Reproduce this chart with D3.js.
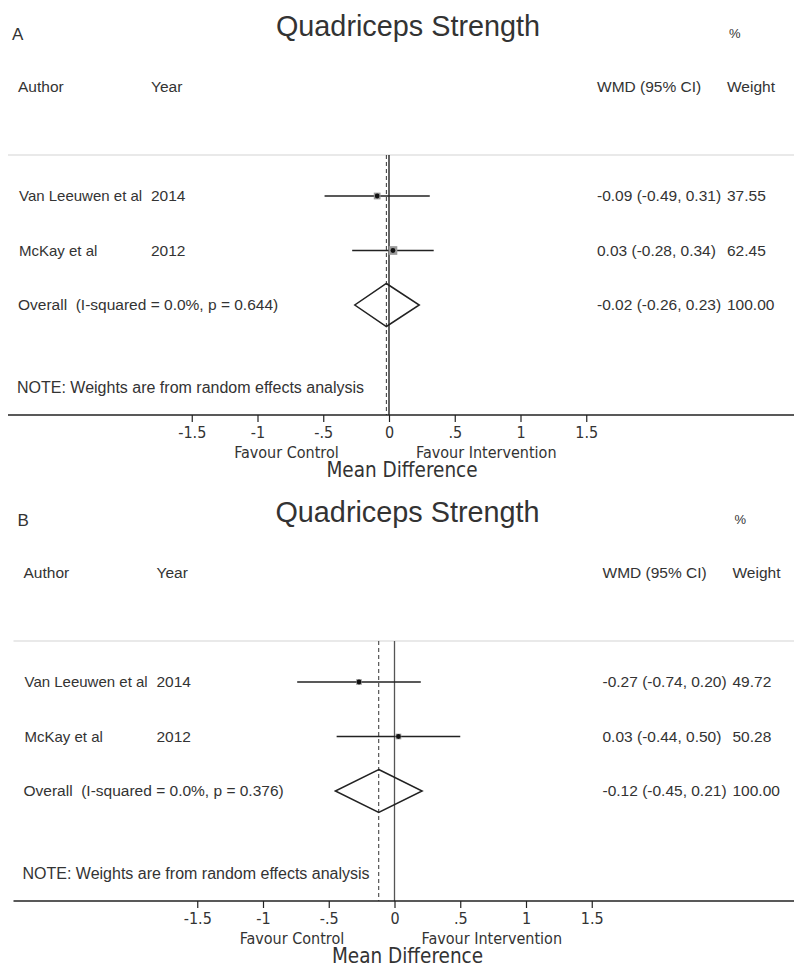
<!DOCTYPE html>
<html>
<head>
<meta charset="utf-8">
<script src="https://cdn.jsdelivr.net/npm/d3@7/dist/d3.min.js"></script>
<style>
  html, body { margin: 0; padding: 0; background: #fff; }
  svg { display: block; }
  text { font-family: "Liberation Sans", Arial, Helvetica, sans-serif; fill: #333; white-space: pre; }
  .narrow { font-family: "DejaVu Sans Condensed", "Liberation Sans Narrow", sans-serif; font-stretch: condensed; }
</style>
</head>
<body>
<script>
// ---------------- data ----------------
const authors = ["Van Leeuwen et al", "McKay et al"];
const years = ["2014", "2012"];

const estA = [-0.09, 0.03];
const lowA = [-0.49, -0.28];
const highA = [0.31, 0.34];
const weightA = ["37.55", "62.45"];
const overallA = { est: -0.02, low: -0.26, high: 0.23, i2: "0.0%", p: "0.644" };

const estB = [-0.27, 0.03];
const lowB = [-0.74, -0.44];
const highB = [0.20, 0.50];
const weightB = ["49.72", "50.28"];
const overallB = { est: -0.12, low: -0.45, high: 0.21, i2: "0.0%", p: "0.376" };

const tickValues = [-1.5, -1, -0.5, 0, 0.5, 1, 1.5];
const tickLabels = ["-1.5", "-1", "-.5", "0", ".5", "1", "1.5"];

const titleText = "Quadriceps Strength";
const xTitle = "Mean Difference";
const favourLeft = "Favour Control";
const favourRight = "Favour Intervention";
const noteText = "NOTE: Weights are from random effects analysis";

// ---------------- drawing ----------------
const W = 794, H = 967;
const svg = d3.select("body").append("svg").attr("width", W).attr("height", H);
const loc = d3.formatLocale({ decimal: ".", thousands: ",", grouping: [3], currency: ["", ""], minus: "-" });
const fmt = loc.format(".2f");

function drawPanel(opts) {
  const { label, est, low, high, weight, overall, dx, dy, zero, zeroColor, boxK, titleX } = opts;
  const g = svg.append("g").attr("transform", `translate(${dx},${dy})`);
  const unit = 131.5;
  const x = d3.scaleLinear().domain([-1.5, 1.5]).range([zero - 1.5 * unit, zero + 1.5 * unit]);
  const rowKeys = authors.map((d, i) => "r" + i).concat(["overall"]);
  const y = d3.scalePoint().domain(rowKeys).range([196, 305]);

  const top = 155, axisY = 415, left = 8, right = W - dx;
  const fs = 15.5;
  const tx = 18;

  // labels
  g.append("text").attr("x", 12).attr("y", 40).attr("font-size", 17).text(label);
  g.append("text").attr("x", titleX).attr("y", 36).attr("text-anchor", "middle")
    .attr("font-size", 28.8).attr("fill", "#3a3a3a").text(titleText);
  g.append("text").attr("x", 729).attr("y", 38).attr("font-size", 13).text("%");

  const hy = 92;
  g.append("text").attr("x", tx).attr("y", hy).attr("font-size", fs).text("Author");
  g.append("text").attr("x", 151).attr("y", hy).attr("font-size", fs).text("Year");
  g.append("text").attr("x", 597).attr("y", hy).attr("font-size", fs).text("WMD (95% CI)");
  g.append("text").attr("x", 727).attr("y", hy).attr("font-size", fs).text("Weight");

  // separator
  g.append("line").attr("x1", left).attr("x2", right).attr("y1", top).attr("y2", top)
    .attr("stroke", "#d4d4d4").attr("stroke-width", 1.2);

  // zero line & overall dashed line
  g.append("line").attr("x1", x(0)).attr("x2", x(0)).attr("y1", top).attr("y2", axisY)
    .attr("stroke", zeroColor).attr("stroke-width", 1.3);
  g.append("line").attr("x1", x(overall.est)).attr("x2", x(overall.est)).attr("y1", top).attr("y2", axisY)
    .attr("stroke", "#333").attr("stroke-width", 1).attr("stroke-dasharray", "4,3");

  // study rows
  authors.forEach((a, i) => {
    const yy = y("r" + i);
    g.append("text").attr("x", tx + 1).attr("y", yy + 5).attr("font-size", 15).text(a);
    g.append("text").attr("x", 151).attr("y", yy + 5).attr("font-size", fs).text(years[i]);
    g.append("text").attr("x", 597).attr("y", yy + 5).attr("font-size", fs)
      .text(`${fmt(est[i])} (${fmt(low[i])}, ${fmt(high[i])})`);
    g.append("text").attr("x", 727).attr("y", yy + 5).attr("font-size", fs).text(weight[i]);

    g.append("line").attr("x1", x(low[i])).attr("x2", x(high[i])).attr("y1", yy).attr("y2", yy)
      .attr("stroke", "#222").attr("stroke-width", 1.4);
    const s = boxK * Math.sqrt(+weight[i]);
    g.append("rect").attr("x", x(est[i]) - s / 2).attr("y", yy - s / 2).attr("width", s).attr("height", s)
      .attr("fill", "#999");
    g.append("circle").attr("cx", x(est[i])).attr("cy", yy).attr("r", 2.4).attr("fill", "#111");
  });

  // overall
  const oy = y("overall");
  g.append("text").attr("x", tx).attr("y", oy + 5).attr("font-size", fs)
    .text(`Overall  (I-squared = ${overall.i2}, p = ${overall.p})`);
  g.append("text").attr("x", 597).attr("y", oy + 5).attr("font-size", fs)
    .text(`${fmt(overall.est)} (${fmt(overall.low)}, ${fmt(overall.high)})`);
  g.append("text").attr("x", 727).attr("y", oy + 5).attr("font-size", fs).text("100.00");
  const dh = 21.5;
  g.append("path")
    .attr("d", `M${x(overall.est)},${oy - dh} L${x(overall.high)},${oy} L${x(overall.est)},${oy + dh} L${x(overall.low)},${oy} Z`)
    .attr("fill", "none").attr("stroke", "#222").attr("stroke-width", 1.5);

  // note
  g.append("text").attr("x", 17).attr("y", 393).attr("font-size", 16).text(noteText);

  // axis
  g.append("line").attr("x1", left).attr("x2", right).attr("y1", axisY).attr("y2", axisY)
    .attr("stroke", "#222").attr("stroke-width", 1.3);
  const ax = g.append("g").attr("transform", `translate(0,${axisY})`)
    .call(d3.axisBottom(x).tickValues(tickValues).tickSize(7).tickPadding(5)
      .tickFormat((d, i) => tickLabels[i]));
  ax.select(".domain").remove();
  ax.selectAll(".tick line").attr("stroke", "#222").attr("stroke-width", 1.2);
  ax.selectAll(".tick text").attr("class", "narrow").attr("font-size", 16).attr("fill", "#333")
    .attr("dy", "0.71em");

  g.append("text").attr("class", "narrow").attr("x", x(-0.78)).attr("y", 458)
    .attr("text-anchor", "middle").attr("font-size", 16).text(favourLeft);
  g.append("text").attr("class", "narrow").attr("x", x(0.74)).attr("y", 458)
    .attr("text-anchor", "middle").attr("font-size", 16).text(favourRight);
  g.append("text").attr("class", "narrow").attr("x", 402).attr("y", 477)
    .attr("text-anchor", "middle").attr("font-size", 20.5).text(xTitle);
}

drawPanel({ label: "A", est: estA, low: lowA, high: highA, weight: weightA, overall: overallA,
  dx: 0, dy: 0, zero: 389, zeroColor: "#111", boxK: 1.1, titleX: 408 });
drawPanel({ label: "B", est: estB, low: lowB, high: highB, weight: weightB, overall: overallB,
  dx: 5.5, dy: 486, zero: 389, zeroColor: "#555", boxK: 0.8, titleX: 402 });
</script>
</body>
</html>
